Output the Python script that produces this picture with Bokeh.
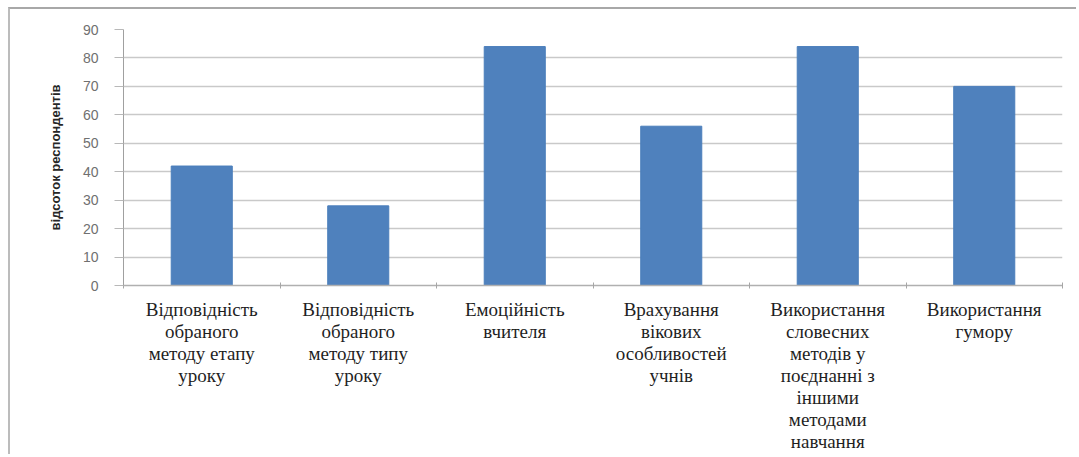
from bokeh.plotting import figure
from bokeh.models import FixedTicker, Range1d, LinearAxis
from bokeh.embed import file_html
from bokeh.resources import INLINE

categories = [
    "Відповідність\nобраного\nметоду етапу\nуроку",
    "Відповідність\nобраного\nметоду типу\nуроку",
    "Емоційність\nвчителя",
    "Врахування\nвікових\nособливостей\nучнів",
    "Використання\nсловесних\nметодів у\nпоєднанні з\nіншими\nметодами\nнавчання",
    "Використання\nгумору",
]
values = [42, 28, 84, 56, 84, 70]
y_ticks = [0, 10, 20, 30, 40, 50, 60, 70, 80, 90]
y_label = "відсоток респондентів"

n = len(categories)
centers = [i + 0.5 for i in range(n)]
bounds = list(range(n + 1))
split_labels = [c.split("\n") for c in categories]
max_lines = max(len(s) for s in split_labels)

p = figure(
    width=1068, height=447,
    x_range=Range1d(0, n), y_range=Range1d(0, max(y_ticks)),
    output_backend="svg", toolbar_location=None,
    min_border_left=113, min_border_right=16,
    min_border_top=20, min_border_bottom=171,
)
p.styles = {
    "margin-left": "8px", "margin-top": "7px",
    "border-left": "2px solid #bcbcbc", "border-top": "2px solid #a8a8a8",
}
p.outline_line_color = None
p.background_fill_color = "white"
p.border_fill_color = "white"

p.vbar(x=centers, top=values, width=0.39, fill_color="#4F81BD", line_color="#4A7EBB")

LABEL_FONT = "serif"
LABEL_SIZE = "19px"
LABEL_COLOR = "#1f1f1f"


def line_overrides(k):
    return {c: (s[k] if k < len(s) else "") for c, s in zip(centers, split_labels)}


# x axis (first line of every category label)
xa = p.xaxis[0]
xa.ticker = FixedTicker(ticks=centers, minor_ticks=bounds)
xa.major_label_overrides = line_overrides(0)
xa.major_tick_out = 0
xa.major_tick_in = 0
xa.minor_tick_out = 3
xa.minor_tick_in = 3
xa.minor_tick_line_color = "#a6a6a6"
xa.axis_line_color = "#b0b0b0"
xa.axis_line_width = 1.5
xa.major_label_standoff = 10
xa.major_label_text_font = LABEL_FONT
xa.major_label_text_font_size = LABEL_SIZE
xa.major_label_text_color = LABEL_COLOR

# further lines of the category labels, one stacked axis per line
for k in range(1, max_lines):
    ax = LinearAxis(
        ticker=FixedTicker(ticks=centers),
        major_label_overrides=line_overrides(k),
        axis_line_color=None,
        major_tick_line_color=None,
        minor_tick_line_color=None,
        major_tick_out=0, major_tick_in=0,
        minor_tick_out=0, minor_tick_in=0,
        major_label_standoff=-2,
        major_label_text_font=LABEL_FONT,
        major_label_text_font_size=LABEL_SIZE,
        major_label_text_color=LABEL_COLOR,
    )
    p.add_layout(ax, "below")

# y axis
ya = p.yaxis[0]
ya.ticker = FixedTicker(ticks=y_ticks)
ya.major_tick_out = 9
ya.major_tick_in = 0
ya.minor_tick_out = 0
ya.minor_tick_in = 0
ya.major_tick_line_color = "#b8b8b8"
ya.axis_line_color = "#a0a0a0"
ya.major_label_standoff = 16
ya.major_label_text_font = "Liberation Sans"
ya.major_label_text_font_size = "14px"
ya.major_label_text_color = "#707070"
ya.axis_label = y_label
ya.axis_label_text_font = "Liberation Sans"
ya.axis_label_text_font_style = "bold"
ya.axis_label_text_font_size = "13px"
ya.axis_label_text_color = "#262626"
ya.axis_label_standoff = 17

p.xgrid.visible = False
p.ygrid.ticker = FixedTicker(ticks=y_ticks)
p.ygrid.grid_line_color = "#c9c9c9"
p.ygrid.grid_line_width = 1.5

open("out.html", "w").write(file_html(p, INLINE))
